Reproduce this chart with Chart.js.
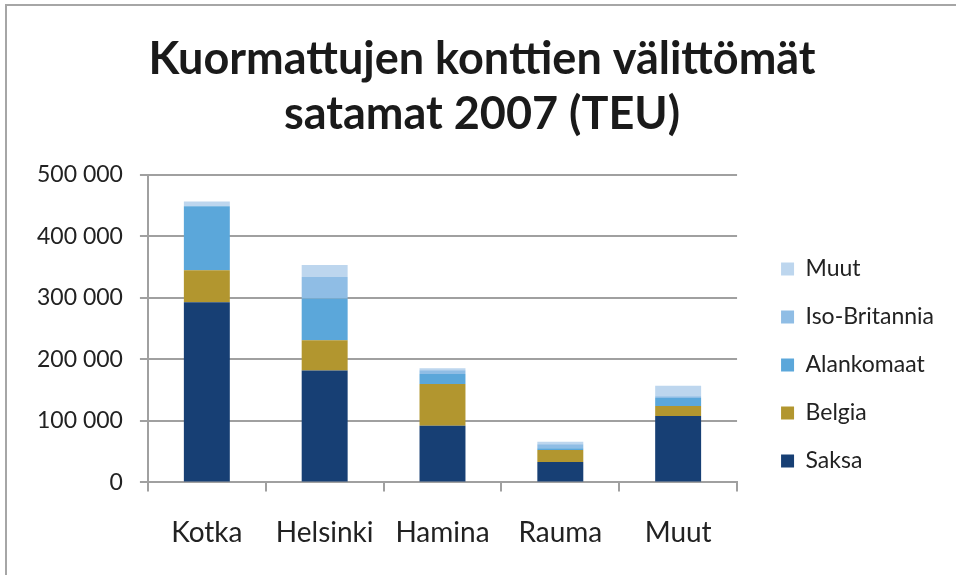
<!DOCTYPE html>
<html>
<head>
<meta charset="utf-8">
<script src="https://cdn.jsdelivr.net/npm/chart.js@4.4.1/dist/chart.umd.min.js"></script>
<style>
  html, body { margin: 0; padding: 0; background: #fff; }
  #frame { position: absolute; left: 5px; top: 4px; width: 960px; height: 600px; border: 2px solid #a6a6a6; }
  #wrap { position: absolute; left: 0; top: 0; width: 956px; height: 575px; }
</style>
</head>
<body>
<div id="frame"></div>
<div id="wrap"><canvas id="chart"></canvas></div>
<script>
// satamat
var satamat = ['Kotka', 'Helsinki', 'Hamina', 'Rauma', 'Muut'];

// TEU per maa
var saksa = [293000, 182000, 92000, 33000, 108000];
var belgia = [52000, 49000, 68000, 19500, 16000];
var alankomaat = [104000, 68000, 16000, 3000, 13000];
var isoBritannia = [0, 35000, 6500, 6500, 3000];
var muut = [7500, 19500, 3000, 4000, 17000];

var yTicks = [0, 100000, 200000, 300000, 400000, 500000];

var fontName = 'Lato, "Open Sans", sans-serif';

function fmt(v) {
	return String(v).replace(/\B(?=(\d{3})+(?!\d))/g, ' ');
}

var chartdata = {
	labels: satamat,
	datasets: [
		{ label: 'Saksa', backgroundColor: '#173F74', data: saksa },
		{ label: 'Belgia', backgroundColor: '#B2962F', data: belgia },
		{ label: 'Alankomaat', backgroundColor: '#5BA7DA', data: alankomaat },
		{ label: 'Iso-Britannia', backgroundColor: '#8FBDE5', data: isoBritannia },
		{ label: 'Muut', backgroundColor: '#BDD6EE', data: muut }
	]
};

var ctx = document.getElementById('chart');

new Chart(ctx, {
	type: 'bar',
	data: chartdata,
	options: {
		responsive: true,
		maintainAspectRatio: false,
		animation: false,
		datasets: {
			bar: { categoryPercentage: 1, barPercentage: 0.39, borderWidth: 0 }
		},
		layout: { padding: { left: 20, right: 12, top: 32, bottom: 0 } },
		plugins: {
			title: {
				display: true,
				text: ['Kuormattujen konttien välittömät', 'satamat 2007 (TEU)'],
				color: '#1a1a1a',
				font: { family: fontName, size: 45, weight: 'bold', lineHeight: 1.22 },
				padding: { top: 0, bottom: 33 }
			},
			legend: {
				position: 'right',
				align: 'center',
				reverse: true,
				maxWidth: 220,
				// tyhjä otsikko siirtää selitettä alaspäin
				title: { display: true, text: ' ', font: { size: 20 }, padding: { top: 50, bottom: 49 } },
				labels: {
					color: '#222',
					font: { family: fontName, size: 23 },
					boxWidth: 13,
					boxHeight: 13,
					padding: 25
				}
			},
			tooltip: { enabled: false }
		},
		scales: {
			x: {
				stacked: true,
				grid: { offset: true, drawOnChartArea: false, color: '#a0a0a0', lineWidth: 2, tickLength: 9 },
				border: { color: '#a0a0a0', width: 2 },
				ticks: { color: '#222', font: { family: fontName, size: 28 }, padding: 25 }
			},
			y: {
				stacked: true,
				min: 0,
				max: 500000,
				afterBuildTicks: function(axis) {
					axis.ticks = yTicks.map(function(v) { return { value: v }; });
				},
				grid: { color: '#a0a0a0', lineWidth: 2, tickLength: 8 },
				border: { color: '#a0a0a0', width: 2 },
				ticks: {
					color: '#222',
					font: { family: fontName, size: 23 },
					padding: 17,
					callback: function(v) { return fmt(v); }
				}
			},
			// väli kuvaajan ja selitteen välissä
			gap: {
				position: 'right',
				grid: { display: false },
				border: { display: false },
				ticks: { display: false },
				afterFit: function(axis) { axis.width = 19; }
			}
		}
	}
});
</script>
</body>
</html>
